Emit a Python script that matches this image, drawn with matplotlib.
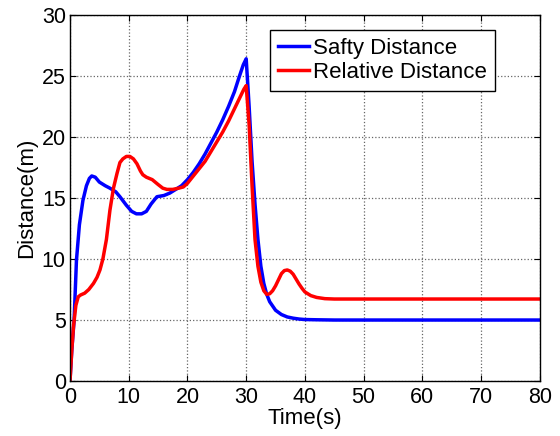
import numpy as np
import matplotlib.pyplot as plt

plt.rcParams['font.family'] = ['Liberation Sans', 'DejaVu Sans']

# Safty Distance curve
t_safe = [0, 0.3, 0.7, 1.1, 1.6, 2.2, 2.8, 3.3, 3.7, 4.3, 5.0, 6.0, 6.8, 7.8, 8.5, 9.6, 10.5, 11.3, 12.2,
          13.0, 13.8, 14.8, 16.0, 17.0, 18.0, 19.0, 20.0, 21.0, 22.0, 23.0, 24.0, 25.0, 26.0, 27.0, 28.0,
          28.8, 29.5, 30.0, 30.5, 31.0, 31.5, 32.0, 32.5, 33.0, 33.5, 34.0, 35.0, 36.0, 37.0, 38.0, 39.0,
          40.0, 42.0, 45.0, 50.0, 60.0, 70.0, 80.0]
d_safe = [0, 2.5, 5.0, 9.9, 12.8, 14.8, 16.0, 16.6, 16.8, 16.7, 16.3, 16.0, 15.8, 15.5, 15.1, 14.4, 13.9, 13.7, 13.7,
          13.9, 14.5, 15.1, 15.2, 15.4, 15.7, 16.0, 16.5, 17.1, 17.8, 18.6, 19.5, 20.4, 21.4, 22.5, 23.7,
          24.9, 25.9, 26.4, 22.5, 18.0, 14.5, 11.6, 9.4, 8.0, 7.1, 6.5, 5.8, 5.45, 5.25, 5.15, 5.08,
          5.04, 5.02, 5.0, 5.0, 5.0, 5.0, 5.0]

# Relative Distance curve
t_rel = [0, 0.3, 0.6, 1.0, 1.4, 1.8, 2.5, 3.2, 4.0, 4.6, 5.1, 5.6, 6.2, 6.8, 7.4, 8.0, 8.5, 9.0, 9.6, 10.2,
         10.8, 11.4, 12.0, 12.4, 13.0, 14.0, 15.0, 15.8, 16.5, 17.5, 18.5, 19.3, 20.0, 21.0, 22.0, 23.0, 24.0,
         25.0, 26.0, 27.0, 28.0, 29.0, 29.6, 30.0, 30.5, 31.0, 31.5, 32.0, 32.5, 33.0, 33.5, 34.0, 34.5,
         35.0, 35.5, 36.0, 36.5, 37.0, 37.5, 38.0, 38.5, 39.0, 39.5, 40.0, 41.0, 42.0, 43.4, 45.0, 50.0,
         60.0, 70.0, 80.0]
d_rel = [0, 2.5, 4.5, 6.2, 6.9, 7.05, 7.2, 7.5, 8.0, 8.5, 9.1, 10.0, 11.6, 14.0, 15.8, 17.0, 17.9, 18.2, 18.4, 18.4,
         18.2, 17.8, 17.2, 16.9, 16.7, 16.5, 16.1, 15.8, 15.7, 15.7, 15.8, 15.9, 16.2, 16.8, 17.4, 18.0, 18.8,
         19.6, 20.4, 21.3, 22.3, 23.3, 23.9, 24.2, 21.0, 16.0, 11.6, 9.4, 8.1, 7.4, 7.1, 7.15, 7.4,
         7.8, 8.3, 8.8, 9.05, 9.1, 9.0, 8.75, 8.35, 7.95, 7.6, 7.3, 7.0, 6.85, 6.75, 6.72, 6.72,
         6.72, 6.72, 6.72]

fig = plt.figure(figsize=(5.6, 4.36), dpi=100)
ax = fig.add_axes([0.125, 0.126, 0.839, 0.84])

ax.plot(t_safe, d_safe, color='#0000ff', lw=2.5, label='Safty Distance')
ax.plot(t_rel, d_rel, color='#ff0000', lw=2.5, label='Relative Distance')

ax.set_xlim(0, 80)
ax.set_ylim(0, 30)
ax.set_xticks(np.arange(0, 81, 10))
ax.set_yticks(np.arange(0, 31, 5))
ax.grid(True, color='#666666', linestyle=':', linewidth=0.9)
ax.tick_params(direction='in', labelsize=15.5, top=True, right=True, length=4)
ax.tick_params(axis='x', pad=4)
ax.tick_params(axis='y', pad=3)
for s in ax.spines.values():
    s.set_linewidth(1.0)

ax.set_xlabel('Time(s)', fontsize=16, labelpad=0)
ax.set_ylabel('Distance(m)', fontsize=16, labelpad=3)

leg = ax.legend(loc='upper right', bbox_to_anchor=(0.904, 0.959), fontsize=16,
                fancybox=False, framealpha=1, edgecolor='black', handlelength=1.4,
                handletextpad=0.2, borderpad=0.35, labelspacing=0.15, borderaxespad=0)
leg.get_frame().set_linewidth(1.0)

fig.savefig('out.png', dpi=100)
